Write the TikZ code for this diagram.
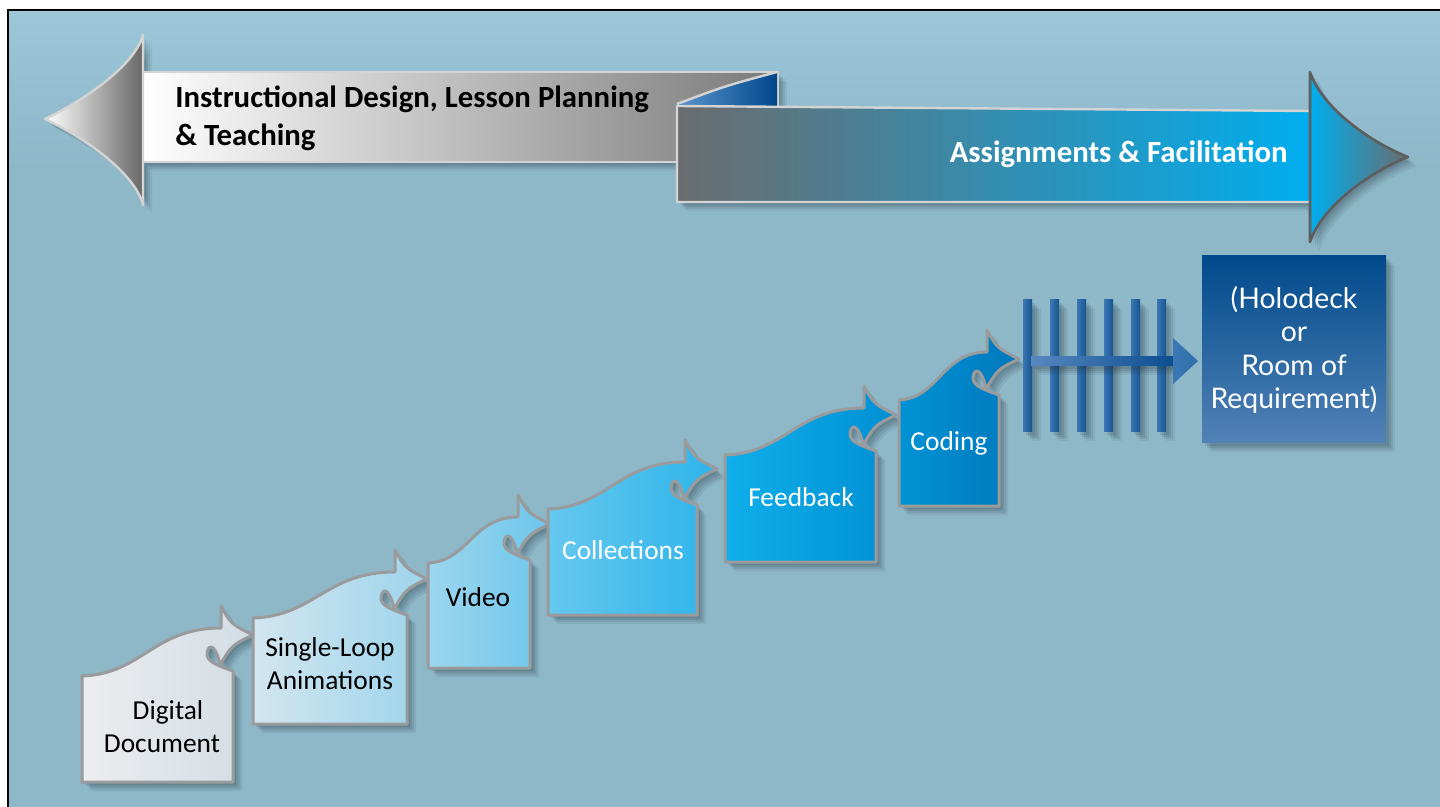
\documentclass[tikz,border=0pt]{standalone}
\usepackage{fontspec}
\setmainfont{Carlito}
\newfontfamily\holofont{Lato}
\definecolor{bg}{HTML}{8EB7C8}
\definecolor{bgtop}{HTML}{9BC7D9}
\definecolor{shadowc}{HTML}{22343E}
\definecolor{stepborder}{HTML}{9A9B9D}
\definecolor{hdrborder}{HTML}{D4D4D4}
\definecolor{greyR}{HTML}{7A7A7A}
\definecolor{cyanA}{HTML}{00AEEF}
\definecolor{greyB}{HTML}{6A6C6E}
\definecolor{foldL}{HTML}{5A95CE}
\definecolor{foldR}{HTML}{00478B}
\definecolor{headborder}{HTML}{5E5E5E}
\definecolor{barL}{HTML}{3A77B4}
\definecolor{barR}{HTML}{17558F}
\definecolor{shaftL}{HTML}{5787BF}
\definecolor{shaftR}{HTML}{0B4E90}
\definecolor{holoTop}{HTML}{004A8C}
\definecolor{holoBot}{HTML}{5282B6}
\definecolor{sA}{HTML}{ECEDEF}\definecolor{sAr}{HTML}{D3DDE4}
\definecolor{sB}{HTML}{D2E6EF}\definecolor{sBr}{HTML}{9DD4EC}
\definecolor{sC}{HTML}{9DD6EE}\definecolor{sCr}{HTML}{6CC6EC}
\definecolor{sD}{HTML}{66C8EF}\definecolor{sDr}{HTML}{2DB4EA}
\definecolor{sE}{HTML}{10AFEC}\definecolor{sEr}{HTML}{0090D3}
\definecolor{sF}{HTML}{0093D4}\definecolor{sFr}{HTML}{0078BD}
% L R B T A
\newcommand\stepPath[5]{(#1,#3) -- (#1,#4) .. controls ({#1+0.4*(#2-#1)},{#4-2}) and ({#2-12-0.45*(#2-#1)},#5) .. ({#2-12},#5) -- ({#2-12},{#5-22}) .. controls ({#2-2},{#5-4}) .. ({#2+20},{#5+7}) .. controls ({#2-1},{#5+17}) .. ({#2-13},{#5+37}) .. controls ({#2-16},{#5+20}) and ({#2-24},{#5+13}) .. ({#2-26},{#5+25}) .. controls ({#2-27},{#5+34}) and ({#2-14},{#5+38}) .. (#2,{#5+43}) -- (#2,#3) -- cycle}
\newcommand\stepbox[7]{%
  \foreach \shO/\shA in {3/0.13,5/0.13,7/0.11,9/0.08}{\fill[shadowc,opacity=\shA,shift={(\shO,\shO)}] \stepPath{#1}{#2}{#3}{#4}{#5};}
  \shade[left color=#6,right color=#7,draw=stepborder,line width=1.5pt,line join=round] \stepPath{#1}{#2}{#3}{#4}{#5};}
\newcommand\softshadow[1]{%
  \foreach \shO/\shA in {3/0.12,5/0.12,7/0.1,9/0.07}{\fill[shadowc,opacity=\shA,shift={(\shO,\shO)}] #1;}}
\begin{document}
\begin{tikzpicture}[x=0.5pt,y=-0.5pt,
  steptext/.style={font=\fontsize{13.7}{16.5}\selectfont,align=center,inner sep=0pt},
  hdrtext/.style={font=\bfseries\fontsize{15.4}{19}\selectfont,inner sep=0pt},
  bar/.style={left color=barL,right color=barR}]
\useasboundingbox (0,0) rectangle (1440,807);
\fill[white] (0,0) rectangle (1440,807);
\fill[bg] (8,10) rectangle (1440,807);
\shade[top color=bgtop,bottom color=bg] (8,10) rectangle (1440,170);
\draw[black,line width=0.6pt] (8,807) -- (8,10) -- (1440,10);

% ---------- grey header arrow ----------
\softshadow{(143,72) rectangle (778,162)}
\softshadow{(143,35) .. controls (135,65) and (85,100) .. (45,119) .. controls (85,138) and (135,173) .. (143,205) -- cycle}
\shade[left color=white,right color=greyR,draw=hdrborder,line width=1.2pt] (143,72) rectangle (778,162);
\shade[left color=white,right color=greyR!85!black,draw=hdrborder,line width=1.2pt,line join=round]
  (143,35) .. controls (135,65) and (85,100) .. (45,119) .. controls (85,138) and (135,173) .. (143,205) -- cycle;
% fold
\shade[left color=foldL,right color=foldR] (677,104) .. controls (725,86) .. (777,72) -- (777,108) -- (677,108) -- cycle;
\draw[hdrborder,line width=1.2pt] (677,104) .. controls (725,86) .. (777,72);

% ---------- blue header arrow ----------
\softshadow{(677,106) -- (1310,111) -- (1310,202) -- (677,202) -- cycle}
\softshadow{(1310,72) .. controls (1322,108) and (1370,142) .. (1408,157) .. controls (1370,172) and (1322,206) .. (1310,242) -- cycle}
\shade[left color=greyB,right color=cyanA,draw=hdrborder,line width=1.2pt] (677,106) -- (1310,111) -- (1310,202) -- (677,202) -- cycle;
\shade[left color=cyanA,right color=greyB,draw=headborder,line width=1.3pt,line join=round]
  (1310,72) .. controls (1322,108) and (1370,142) .. (1408,157) .. controls (1370,172) and (1322,206) .. (1310,242) -- cycle;

\node[hdrtext,anchor=west,align=left] (hdrL) at (175,118.5) {Instructional Design, Lesson Planning\\\& Teaching};
\node[hdrtext,anchor=east,text=white] (hdrR) at (1288,154) {Assignments \& Facilitation};

% ---------- steps ----------
\stepbox{82}{233}{782}{676}{628}{sA}{sAr}
\stepbox{253}{407}{724}{618}{572}{sB}{sBr}
\stepbox{428}{530}{668}{563}{517}{sC}{sCr}
\stepbox{548}{697}{615}{509}{462}{sD}{sDr}
\stepbox{725}{876}{562}{455}{408}{sE}{sEr}
\stepbox{899}{999}{506}{400}{352}{sF}{sFr}

\node[steptext] (s1) at (162,727) {\hspace*{6pt}Digital\\Document};
\node[steptext] (s2) at (330,664) {Single-Loop\\Animations};
\node[steptext] (s3) at (478,597) {Video};
\node[steptext,text=white] (s4) at (623,550) {Collections};
\node[steptext,text=white] (s5) at (801,497) {Feedback};
\node[steptext,text=white] (s6) at (949,443) {Coding};

% ---------- ladder ----------
\foreach \bx in {1023,1050,1077,1104,1131,1157}{
  \softshadow{(\bx,300) rectangle ({\bx+9},432)}
}
\foreach \bx in {1023,1050,1077,1104,1131,1157}{
  \shade[bar] (\bx,300) rectangle ({\bx+9},432);
}
\softshadow{(1031,357) rectangle (1173,366)}
\shade[left color=shaftL,right color=shaftR] (1031,357) rectangle (1174,366);
\shade[left color=barL,right color=barL!80!shaftR] (1173,338) -- (1198,361) -- (1173,384) -- cycle;

% ---------- holodeck ----------
\softshadow{(1202,256) rectangle (1386,443)}
\shade[top color=holoTop,bottom color=holoBot] (1202,256) rectangle (1386,443);
\node[font=\holofont\fontsize{14.2}{16.6}\selectfont,text=white,align=center,inner sep=0pt] (holo) at (1294,350)
  {(Holodeck\\or\\Room of\\Requirement)};
\end{tikzpicture}
\end{document}
